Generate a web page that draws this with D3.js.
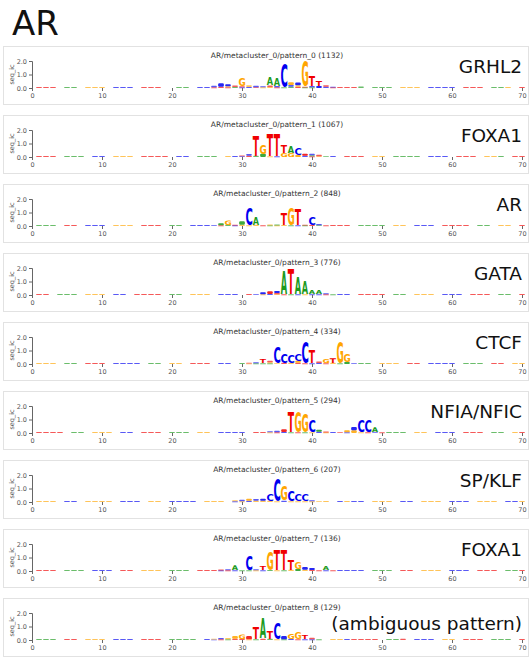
<!DOCTYPE html>
<html><head><meta charset="utf-8">
<script src="https://cdn.jsdelivr.net/npm/d3@7"></script>
<style>
body{margin:0;background:#fff;}
svg{display:block;font-family:'DejaVu Sans',sans-serif;}
</style></head><body>
<svg id="c" width="531" height="659"></svg>
<script>
// ---------- data ----------
const factor = "AR";
const patternNames = ["pattern_0","pattern_1","pattern_2","pattern_3","pattern_4","pattern_5","pattern_6","pattern_7","pattern_8"];
const counts = [1132, 1067, 848, 776, 334, 294, 207, 136, 129];
const motifLabels = ["GRHL2","FOXA1","AR","GATA","CTCF","NFIA/NFIC","SP/KLF","FOXA1","(ambiguous pattern)"];
const xTicks = [0,10,20,30,40,50,60,70];
const yTicks = [0,1,2];
const bases = ["A","C","G","T"];
const baseColors = {A:"#1c9a1c", C:"#0000f0", G:"#ffa500", T:"#f00000"};
const bgHeight = 0.08;

// dominant base of the faint background columns, position 0..70 ('-' = almost nothing)
const background = [
 "-TTT-AA-GGG-CCC-TTT--AA-CCC-TTTT-GG-AAA-CCC-TTTT-AAA-GGG-CCCC-TTT-AAG-T",
 "-TTT-AAA-CC-GGG-TTTT-CC-AAA-GG-TTTT-AAA-CCCC-TTT-GG-AAAA-CCC-TTT-GGA-TT",
 "-AAA-TT-CCC-GGG-TTT-AA-CCCC-TTT-GGG-AAA-CC-TTT-AAAA-GG-CCC-TTTT-AA-GG-T",
 "-TT-AAA-GGG-CC-TTTT-AA-GGG-CCC-TTT-AAA-GGG-CCC-TTTT-AA-GGG-CCC-TTT-AA-T",
 "-GGG-AA-TTT-CCCC-AA-GG-TTT-CC-AAAA-GG-TTT-CCC-AAA-GGG-TT-CCCC-AAA-TT-GG",
 "-TTTT-AA-GGG-CC-TTT-AAA-GG-CCCC-TTT-AA-GGG-CC-TTTT-AAA-GG-CCC-TTT-AA-GT",
 "-GGG-CC-GGGG-CCC-GG-CCCC-GGG-CC-GGGG-CCC-GG-CCCC-GGG-CC-GGG-CCC-GGG-CCG",
 "-TTT-AAA-CCC-TT-GGG-AAA-TTTT-CC-AAA-GGG-TTT-CCCC-AAA-TT-GGG-CCC-TTT-AAT",
 "-AAA-TT-GGG-CCC-TTT-AAAA-CC-GGG-TTT-AA-CCC-GG-TTTT-AAA-CCC-GG-TTT-AAA-T"
];

// motif columns: [position, bases, heights in bits]
const motif0 = [
 [26,"TC",[0.05,0.12]],[27,"TC",[0.1,0.25]],[28,"TGC",[0.05,0.08,0.15]],[29,"AT",[0.08,0.1]],
 [30,"CTG",[0.05,0.08,0.62]],[31,"CG",[0.08,0.12]],[32,"TC",[0.06,0.1]],[33,"GC",[0.05,0.08]],
 [34,"GTA",[0.08,0.1,0.6]],[35,"CTA",[0.1,0.05,0.55]],[36,"AC",[0.05,1.75]],[37,"ACG",[0.1,0.12,0.2]],
 [38,"TGC",[0.08,0.12,0.2]],[39,"ATG",[0.05,0.05,1.85]],[40,"CAT",[0.1,0.05,0.8]],[41,"CT",[0.15,0.4]],
 [42,"CT",[0.1,0.1]],[43,"TC",[0.05,0.05]],[47,"A",[0.12]]
];
const motif1 = [
 [29,"C",[0.08]],[30,"CT",[0.06,0.06]],[31,"TC",[0.1,0.12]],[32,"AT",[0.1,1.45]],
 [33,"AG",[0.25,0.7]],[34,"GT",[0.05,1.7]],[35,"CT",[0.05,1.65]],[36,"GT",[0.3,0.6]],
 [37,"GA",[0.3,0.5]],[38,"GC",[0.15,0.5]],[39,"CT",[0.1,0.15]],[40,"TAC",[0.05,0.08,0.12]],
 [41,"GT",[0.06,0.1]],[42,"A",[0.06]]
];
const motif2 = [
 [26,"C",[0.06]],[27,"TA",[0.05,0.15]],[28,"AG",[0.1,0.35]],[29,"CT",[0.05,0.05]],
 [30,"GA",[0.1,0.25]],[31,"GC",[0.05,1.25]],[32,"GA",[0.1,0.6]],[33,"T",[0.05]],
 [34,"AG",[0.05,0.06]],[35,"GA",[0.05,0.06]],[36,"GT",[0.08,0.85]],[37,"AG",[0.05,1.3]],
 [38,"CT",[0.05,1.2]],[39,"AT",[0.05,0.05]],[40,"TC",[0.08,0.6]],[41,"AC",[0.06,0.08]],[42,"T",[0.05]]
];
const motif3 = [
 [32,"C",[0.06]],[33,"GC",[0.05,0.15]],[34,"CT",[0.08,0.2]],[35,"GTC",[0.06,0.08,0.15]],
 [36,"TA",[0.05,1.75]],[37,"AT",[0.05,1.8]],[38,"CA",[0.05,1.25]],[39,"GA",[0.05,0.95]],
 [40,"CA",[0.05,0.3]],[41,"CA",[0.05,0.3]],[42,"TC",[0.05,0.08]],[43,"A",[0.05]]
];
const motif4 = [
 [31,"GT",[0.04,0.06]],[32,"AC",[0.05,0.08]],[33,"AT",[0.05,0.3]],[34,"AGT",[0.05,0.08,0.12]],
 [35,"GC",[0.06,1.2]],[36,"TC",[0.1,0.7]],[37,"GC",[0.1,0.6]],[38,"TGC",[0.1,0.15,0.5]],
 [39,"TC",[0.05,1.6]],[40,"CT",[0.05,0.95]],[41,"CT",[0.08,0.1]],[42,"TG",[0.05,0.3]],
 [43,"GT",[0.1,0.35]],[44,"AG",[0.05,1.6]],[45,"AG",[0.15,0.6]],[46,"C",[0.06]]
];
const motif5 = [
 [34,"GC",[0.05,0.08]],[35,"TC",[0.05,0.12]],[36,"CT",[0.08,0.2]],[37,"AT",[0.05,1.45]],
 [38,"TG",[0.05,1.5]],[39,"AG",[0.05,1.4]],[40,"GC",[0.05,0.9]],[41,"CA",[0.1,0.15]],
 [42,"GT",[0.05,0.06]],[44,"T",[0.06]],[45,"CG",[0.05,0.15]],[46,"GC",[0.2,0.25]],
 [47,"GC",[0.05,0.9]],[48,"TC",[0.05,0.85]],[49,"CA",[0.06,0.35]],[50,"T",[0.05]]
];
const motif6 = [
 [26,"G",[0.08]],[29,"CG",[0.05,0.08]],[30,"GC",[0.05,0.12]],[31,"CG",[0.1,0.15]],
 [32,"GC",[0.1,0.12]],[33,"GC",[0.1,0.15]],[34,"GC",[0.1,0.5]],[35,"GC",[0.05,1.7]],
 [36,"CG",[0.1,1.1]],[37,"GC",[0.05,0.75]],[38,"GC",[0.05,0.5]],[39,"GC",[0.05,0.45]],
 [40,"GC",[0.05,0.08]],[41,"G",[0.06]],[45,"G",[0.08]]
];
const motif7 = [
 [27,"CT",[0.05,0.06]],[28,"TC",[0.05,0.08]],[29,"CA",[0.05,0.35]],[30,"A",[0.05]],
 [31,"AC",[0.05,1.1]],[32,"GC",[0.05,0.08]],[33,"CT",[0.05,0.3]],[34,"AG",[0.08,1.35]],
 [35,"GT",[0.05,1.5]],[36,"AT",[0.05,1.45]],[37,"GT",[0.1,0.8]],[38,"AG",[0.15,0.5]],
 [39,"GC",[0.1,0.2]],[40,"TC",[0.08,0.15]],[41,"T",[0.05]],[42,"CA",[0.05,0.3]],[43,"T",[0.05]]
];
const motif8 = [
 [26,"CG",[0.04,0.06]],[27,"TC",[0.05,0.1]],[28,"AG",[0.05,0.1]],[29,"TG",[0.1,0.2]],
 [30,"TG",[0.1,0.35]],[31,"GT",[0.05,0.25]],[32,"AT",[0.05,0.9]],[33,"TA",[0.1,1.5]],
 [34,"AT",[0.1,0.6]],[35,"GC",[0.05,1.2]],[36,"AC",[0.05,0.25]],[37,"CG",[0.1,0.4]],
 [38,"TG",[0.05,0.45]],[39,"CT",[0.05,0.3]],[40,"CT",[0.05,0.12]],[41,"A",[0.05]],
 [45,"C",[0.08]],[53,"T",[0.1]]
];
const motifs = [motif0,motif1,motif2,motif3,motif4,motif5,motif6,motif7,motif8];

// ---------- layout ----------
const panelTop = 46, panelStep = 69, panelH = 58;
const plotTopOff = 15, plotBotOff = 42;
const x = d3.scaleLinear().domain([0,70]).range([32,522]);
const letterW = 0.9;
const labelBaseline = [27,27,27,27,27,27,27,27,32];

const svg = d3.select("#c");
svg.append("text").attr("x",12).attr("y",35).attr("font-size",34).attr("fill","#111").text(factor);

// glyph metrics for stretching letters into their boxes
const FS = 100;
const cv = document.createElement("canvas").getContext("2d");
cv.font = `bold ${FS}px "DejaVu Sans"`;
const glyph = {};
bases.forEach(b=>{const m=cv.measureText(b);glyph[b]={l:m.actualBoundingBoxLeft,r:m.actualBoundingBoxRight,a:m.actualBoundingBoxAscent,d:m.actualBoundingBoxDescent};});

function drawLetter(g, b, cx, yTop, yBot){
  const px0 = x(cx - letterW/2), px1 = x(cx + letterW/2);
  const h = yBot - yTop;
  if (h < 3.6){
    g.append("rect").attr("x",px0+0.3).attr("y",yTop).attr("width",px1-px0-0.6).attr("height",Math.max(h,0.9))
      .attr("rx",Math.min(1.2,h/2)).attr("fill",baseColors[b]).attr("opacity",h<1.8?0.65:0.85);
    return;
  }
  const m = glyph[b];
  const sx = (px1-px0)/(m.l+m.r), sy = h/(m.a+m.d);
  g.append("text").attr("font-size",FS).attr("font-weight","bold").attr("fill",baseColors[b])
    .attr("transform",`translate(${px0+m.l*sx},${yBot-m.d*sy}) scale(${sx},${sy})`).text(b);
}

motifs.forEach((motif,i)=>{
  const top = panelTop + i*panelStep;
  const g = svg.append("g");
  g.append("rect").attr("x",3.5).attr("y",top+0.5).attr("width",525).attr("height",panelH)
    .attr("fill","none").attr("stroke","#e2e2e2");
  const y = d3.scaleLinear().domain([0,2]).range([top+plotBotOff, top+plotTopOff]);

  const cols = new Map();
  motif.forEach(([p,ls,hs])=>cols.set(p, ls.split("").map((b,k)=>({b,h:hs[k]}))));
  const bg = background[i];
  for (let p=0;p<=70 && p<bg.length;p++){
    if (!cols.has(p) && bg[p] !== "-") cols.set(p,[{b:bg[p],h:bgHeight}]);
  }
  const lg = g.append("g");
  cols.forEach((stack,p)=>{
    const s = stack.slice().sort((a,b)=>a.h-b.h);
    let acc = 0;
    s.forEach(({b,h})=>{ drawLetter(lg,b,p,y(acc+h),y(acc)); acc+=h; });
  });

  const ya = g.append("g").attr("transform",`translate(${x(0)},0)`)
    .call(d3.axisLeft(y).tickValues(yTicks).tickFormat(d3.format(".1f")).tickSize(3).tickPadding(2));
  ya.select(".domain").attr("stroke","#666");
  ya.selectAll(".tick line").attr("stroke","#666");
  ya.selectAll("text").attr("font-size",6.5).attr("fill","#555").attr("font-family","DejaVu Sans");
  const xa = g.append("g").attr("transform",`translate(0,${y(0)})`)
    .call(d3.axisBottom(x).tickValues(xTicks).tickSize(3).tickPadding(2));
  xa.select(".domain").remove();
  xa.selectAll(".tick line").attr("stroke","#666");
  xa.selectAll("text").attr("font-size",6.5).attr("fill","#555").attr("font-family","DejaVu Sans");

  g.append("text").attr("transform",`translate(14,${(y(0)+y(2))/2}) rotate(-90)`)
    .attr("text-anchor","middle").attr("font-size",6.5).attr("fill","#555").text("seq_ic");
  g.append("text").attr("x",(x(0)+x(70))/2).attr("y",top+11.5).attr("text-anchor","middle")
    .attr("font-size",7.5).attr("fill","#333").text(`${factor}/metacluster_0/${patternNames[i]} (${counts[i]})`);
  g.append("text").attr("x",522).attr("y",top+labelBaseline[i]).attr("text-anchor","end")
    .attr("font-size",18.5).attr("fill","#111").text(motifLabels[i]);
});
</script>
</body></html>
